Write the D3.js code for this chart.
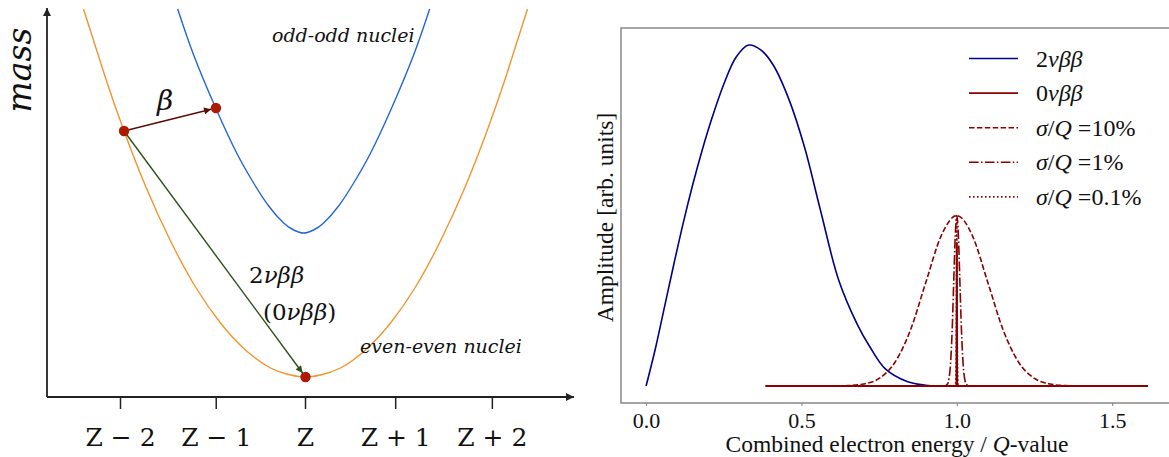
<!DOCTYPE html>
<html>
<head>
<meta charset="utf-8">
<script src="https://cdn.jsdelivr.net/npm/d3@7"></script>
<style>
  body { margin: 0; background: #fff; }
  svg { display: block; }
</style>
</head>
<body>
<svg id="chart" width="1169" height="457"></svg>
<script>

// ---------- left panel: mass parabolas (x in units of Z, mass arbitrary) ----------
var evenX = [-2.40, -2.162, -1.962, -1.730, -1.459, -1.189, -0.919, -0.649, -0.378, -0.162, 0, 0.162, 0.378, 0.649, 0.919, 1.189, 1.459, 1.730, 1.962, 2.162, 2.40];
var evenM = [38.8, 31.9, 26.6, 21.1, 15.6, 11.0, 7.4, 4.7, 2.9, 2.2, 2.0, 2.2, 2.9, 4.7, 7.4, 11.0, 15.6, 21.1, 26.6, 31.9, 38.8];
var oddX = [-1.382, -1.209, -0.971, -0.744, -0.561, -0.398, -0.236, -0.128, -0.02, 0.088, 0.196, 0.358, 0.521, 0.704, 0.931, 1.169, 1.342];
var oddM = [38.8, 34.2, 28.9, 24.4, 21.4, 19.1, 17.4, 16.7, 16.4, 16.7, 17.4, 19.1, 21.4, 24.4, 28.9, 34.2, 38.8];
var nucleiX = [-1.962, -0.968, 0];
var nucleiM = [26.6, 28.9, 2.0];
var zTicks = [-2, -0.965, 0, 0.975, 2.02];
var zLabels = ["Z − 2", "Z − 1", "Z", "Z + 1", "Z + 2"];

// ---------- right panel: spectra ----------
var twoNuE = [0, 0.03, 0.06, 0.09, 0.12, 0.15, 0.18, 0.21, 0.25, 0.29, 0.33, 0.37, 0.41, 0.46, 0.51, 0.56, 0.62, 0.68, 0.72, 0.77, 0.84, 0.9, 0.95, 1.0];
var twoNuA = [0, 0.11, 0.235, 0.36, 0.48, 0.59, 0.69, 0.78, 0.885, 0.965, 1.0, 0.985, 0.94, 0.84, 0.70, 0.52, 0.31, 0.18, 0.115, 0.05, 0.013, 0.002, 0, 0];
var zeroNuE = [0.385, 0.999, 1.0, 1.001, 1.615];
var zeroNuA = [0, 0, 0.42, 0, 0];
var res10E = [0.385, 0.55, 0.6, 0.65, 0.7, 0.75, 0.8, 0.85, 0.9, 0.95, 1.0, 1.05, 1.1, 1.15, 1.2, 1.25, 1.3, 1.35, 1.4, 1.45, 1.615];
var res10A = [0, 0, 0.0002, 0.001, 0.0056, 0.022, 0.068, 0.162, 0.303, 0.441, 0.5, 0.441, 0.303, 0.162, 0.068, 0.022, 0.0056, 0.001, 0.0002, 0, 0];
var res1E = [0.385, 0.96, 0.97, 0.975, 0.98, 0.985, 0.99, 0.995, 1.0, 1.005, 1.01, 1.015, 1.02, 1.025, 1.03, 1.04, 1.615];
var res1A = [0, 0, 0.006, 0.022, 0.068, 0.162, 0.303, 0.441, 0.5, 0.441, 0.303, 0.162, 0.068, 0.022, 0.006, 0, 0];
var res01E = [0.385, 0.996, 0.998, 0.999, 1.0, 1.001, 1.002, 1.004, 1.615];
var res01A = [0, 0, 0.07, 0.3, 0.5, 0.3, 0.07, 0, 0];
var eTicks = [0, 0.5, 1.0, 1.5];
var legendLabels = ["2νββ", "0νββ", "σ/Q =10%", "σ/Q =1%", "σ/Q =0.1%"];

var leftFont = "DejaVu Serif";
var rightFont = "Liberation Serif";

function zip(xs, ys) {
  return xs.map(function(x, i) { return {x: x, y: ys[i]}; });
}

var svg = d3.select("#chart");

var defs = svg.append("defs");
function addArrow(id, color, w, h) {
  defs.append("marker")
      .attr("id", id)
      .attr("viewBox", "0 0 10 10")
      .attr("refX", 10)
      .attr("refY", 5)
      .attr("markerUnits", "userSpaceOnUse")
      .attr("markerWidth", w)
      .attr("markerHeight", h)
      .attr("orient", "auto")
    .append("path")
      .attr("d", "M0,0 L10,5 L0,10 z")
      .attr("fill", color);
}
addArrow("axisArrow", "#222", 10, 8);
addArrow("betaArrow", "#5a0d08", 9, 7);
addArrow("bbArrow", "#2f4f1a", 9, 7);

// ======== left panel ========
var left = svg.append("g")
    .attr("font-family", leftFont)
    .attr("fill", "#111");

var zx = d3.scaleLinear().domain([0, 1]).range([305.5, 398]);
var my = d3.scaleLinear().domain([0, 1]).range([397, 387]);

var curve = d3.line()
    .x(function(d) { return zx(d.x); })
    .y(function(d) { return my(d.y); })
    .curve(d3.curveNatural);

left.append("path")
    .datum(zip(evenX, evenM))
    .attr("fill", "none")
    .attr("stroke", "#f2952f")
    .attr("stroke-width", 1.4)
    .attr("d", curve);

left.append("path")
    .datum(zip(oddX, oddM))
    .attr("fill", "none")
    .attr("stroke", "#2167d8")
    .attr("stroke-width", 1.4)
    .attr("d", curve);

// axes with arrows
left.append("line")
    .attr("x1", 47).attr("y1", my(0)).attr("x2", 47).attr("y2", 8)
    .attr("stroke", "#222").attr("stroke-width", 1.8)
    .attr("marker-end", "url(#axisArrow)");
left.append("line")
    .attr("x1", 47).attr("y1", my(0)).attr("x2", 574).attr("y2", my(0))
    .attr("stroke", "#222").attr("stroke-width", 1.8)
    .attr("marker-end", "url(#axisArrow)");

left.selectAll(".ztick")
    .data(zTicks)
  .enter().append("line")
    .attr("x1", function(d) { return zx(d); })
    .attr("x2", function(d) { return zx(d); })
    .attr("y1", my(0))
    .attr("y2", my(0) + 12)
    .attr("stroke", "#222")
    .attr("stroke-width", 1.5);

left.selectAll(".zlabel")
    .data(zLabels)
  .enter().append("text")
    .attr("x", function(d, i) { return zx(zTicks[i]); })
    .attr("y", 446)
    .attr("text-anchor", "middle")
    .style("font-size", "25px")
    .text(function(d) { return d; });

// decay arrows
var p = zip(nucleiX, nucleiM);
function shorten(a, b, r) {
  var dx = zx(b.x) - zx(a.x), dy = my(b.y) - my(a.y);
  var len = Math.sqrt(dx * dx + dy * dy);
  return [zx(b.x) - dx / len * r, my(b.y) - dy / len * r];
}
var tipB = shorten(p[0], p[1], 5);
left.append("line")
    .attr("x1", zx(p[0].x)).attr("y1", my(p[0].y))
    .attr("x2", tipB[0]).attr("y2", tipB[1])
    .attr("stroke", "#5a0d08").attr("stroke-width", 1.4)
    .attr("marker-end", "url(#betaArrow)");
var tipBB = shorten(p[0], p[2], 5);
left.append("line")
    .attr("x1", zx(p[0].x)).attr("y1", my(p[0].y))
    .attr("x2", tipBB[0]).attr("y2", tipBB[1])
    .attr("stroke", "#2f4f1a").attr("stroke-width", 1.4)
    .attr("marker-end", "url(#bbArrow)");

left.selectAll(".nucleus")
    .data(p)
  .enter().append("circle")
    .attr("cx", function(d) { return zx(d.x); })
    .attr("cy", function(d) { return my(d.y); })
    .attr("r", 5.2)
    .attr("fill", "#ac1a02");

left.append("text")
    .attr("transform", "translate(31,70)rotate(-90)")
    .attr("text-anchor", "middle")
    .style("font-size", "33px")
    .style("font-style", "italic")
    .text("mass");

left.append("text")
    .attr("x", 272).attr("y", 42)
    .style("font-size", "19px")
    .style("font-style", "italic")
    .text("odd-odd nuclei");

left.append("text")
    .attr("x", 360).attr("y", 353)
    .style("font-size", "19px")
    .style("font-style", "italic")
    .text("even-even nuclei");

left.append("text")
    .attr("x", 157).attr("y", 110)
    .style("font-size", "28px")
    .style("font-style", "italic")
    .text("β");

var t1 = left.append("text").attr("x", 249).attr("y", 283).style("font-size", "23px");
t1.append("tspan").text("2");
t1.append("tspan").style("font-style", "italic").text("νββ");
var t2 = left.append("text").attr("x", 263).attr("y", 320).style("font-size", "23px");
t2.append("tspan").text("(0");
t2.append("tspan").style("font-style", "italic").text("νββ");
t2.append("tspan").text(")");

// ======== right panel ========
var margin = {top: 28, right: -4, bottom: 54, left: 621};
var width = 1169 - margin.left - margin.right;
var height = 457 - margin.top - margin.bottom;

var right = svg.append("g")
    .attr("font-family", rightFont)
    .attr("fill", "#111")
    .attr("transform", "translate(" + margin.left + "," + margin.top + ")");

var x = d3.scaleLinear()
    .domain([-0.08075, 1.69575])
    .range([0, width]);
var y = d3.scaleLinear()
    .domain([-0.05, 1.05])
    .range([height, 0]);

var line = d3.line()
    .x(function(d) { return x(d.x); })
    .y(function(d) { return y(d.y); });

var darkred = "#8b0000";

right.append("path")
    .datum(zip(twoNuE, twoNuA))
    .attr("fill", "none")
    .attr("stroke", "#00008b")
    .attr("stroke-width", 1.6)
    .attr("d", line.curve(d3.curveCatmullRom));

right.append("path")
    .datum(zip(res10E, res10A))
    .attr("fill", "none")
    .attr("stroke", darkred)
    .attr("stroke-width", 1.6)
    .attr("stroke-dasharray", "5.5,2.4")
    .attr("d", line.curve(d3.curveMonotoneX));

right.append("path")
    .datum(zip(res1E, res1A))
    .attr("fill", "none")
    .attr("stroke", darkred)
    .attr("stroke-width", 1.6)
    .attr("stroke-dasharray", "9.6,2.4,1.5,2.4")
    .attr("d", line.curve(d3.curveMonotoneX));

right.append("path")
    .datum(zip(res01E, res01A))
    .attr("fill", "none")
    .attr("stroke", darkred)
    .attr("stroke-width", 1.6)
    .attr("stroke-dasharray", "1.5,2.5")
    .attr("d", line.curve(d3.curveLinear));

right.append("path")
    .datum(zip(zeroNuE, zeroNuA))
    .attr("fill", "none")
    .attr("stroke", darkred)
    .attr("stroke-width", 2)
    .attr("d", line.curve(d3.curveLinear));

// frame
right.append("rect")
    .attr("x", 0).attr("y", 0)
    .attr("width", width).attr("height", height)
    .attr("fill", "none")
    .attr("stroke", "#808080")
    .attr("stroke-width", 1.4);

var xAxis = right.append("g")
    .attr("transform", "translate(0," + height + ")")
    .call(d3.axisBottom(x).tickValues(eTicks).tickSize(3).tickPadding(6).tickFormat(d3.format(".1f")));
xAxis.attr("font-family", rightFont).attr("font-size", 22);
xAxis.select(".domain").remove();
xAxis.selectAll("line").attr("stroke", "#808080");
xAxis.selectAll("text").attr("fill", "#111");

var xl = right.append("text")
    .attr("x", 276).attr("y", 424)
    .attr("text-anchor", "middle")
    .style("font-size", "23.5px");
xl.append("tspan").text("Combined electron energy / ");
xl.append("tspan").style("font-style", "italic").text("Q");
xl.append("tspan").text("-value");

right.append("text")
    .attr("transform", "translate(-8," + (y(0.5) + 2) + ")rotate(-90)")
    .attr("text-anchor", "middle")
    .style("font-size", "23.5px")
    .text("Amplitude [arb. units]");

// legend
var legendStyles = [
  {color: "#00008b", dash: null},
  {color: darkred, dash: null},
  {color: darkred, dash: "5.5,2.4"},
  {color: darkred, dash: "9.6,2.4,1.5,2.4"},
  {color: darkred, dash: "1.5,2.5"}
];

var legend = right.selectAll(".legend")
    .data(legendLabels)
  .enter().append("g")
    .attr("transform", function(d, i) { return "translate(348," + (30.5 + i * 34.6) + ")"; });

legend.append("line")
    .attr("x1", 0).attr("x2", 49)
    .attr("stroke", function(d, i) { return legendStyles[i].color; })
    .attr("stroke-width", 1.6)
    .attr("stroke-dasharray", function(d, i) { return legendStyles[i].dash; });

legend.each(function(d) {
  var t = d3.select(this).append("text")
      .attr("x", 67).attr("y", 8)
      .style("font-size", "24px");
  if (d.indexOf("σ") === 0) {
    t.append("tspan").style("font-style", "italic").text("σ");
    t.append("tspan").text("/");
    t.append("tspan").style("font-style", "italic").text("Q");
    t.append("tspan").text(" " + d.slice(4));
  } else {
    t.append("tspan").text(d.charAt(0));
    t.append("tspan").style("font-style", "italic").text(d.slice(1));
  }
});

</script>
</body>
</html>
